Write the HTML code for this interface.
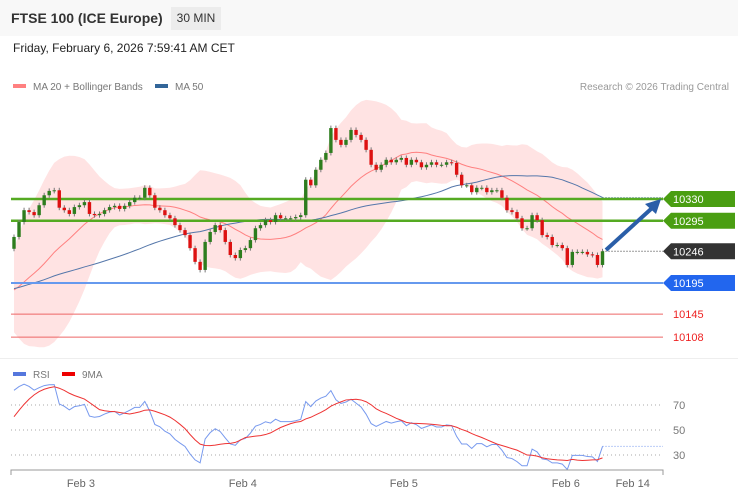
<!DOCTYPE html>
<html><head><meta charset="utf-8"><style>
body{margin:0;background:#fff;font-family:"Liberation Sans",sans-serif;}
#wrap{position:relative;width:738px;height:500px;overflow:hidden;background:#fff}
.hdr{position:absolute;left:0;top:0;width:738px;height:36px;background:#f8f8f8}
</style></head><body>
<div id="wrap">
<div class="hdr">
 <div style="position:absolute;left:11px;top:10px;font-size:14px;font-weight:bold;color:#333">FTSE 100 (ICE Europe)</div>
 <div style="position:absolute;left:171px;top:7px;width:50px;height:23px;background:#ececec;font-size:12px;line-height:23px;text-align:center;color:#333">30 MIN</div>
</div>
<div style="position:absolute;left:13px;top:41px;font-size:12px;color:#222">Friday, February 6, 2026 7:59:41 AM CET</div>
<svg id="svg" width="738" height="500" style="position:absolute;left:0;top:0"></svg>
</div>
<script>
const priorCloses=[10200,10195,10190,10185,10190,10195,10200,10195,10190,10185,10190,10195,10200,10205,10200,10195,10190,10185,10180,10185,10190,10185,10180,10175,10180,10185,10180,10175,10170,10175,10180,10175,10170,10165,10170,10175,10170,10165,10160,10165,10170,10165,10160,10165,10170,10175,10190,10210,10235,10250];
const closes=[10269,10293,10312,10309,10304,10320,10336,10343,10344,10316,10312,10306,10317,10320,10325,10306,10304,10306,10312,10317,10319,10314,10319,10325,10332,10332,10348,10336,10316,10312,10304,10299,10288,10280,10272,10251,10229,10216,10261,10277,10288,10280,10261,10240,10235,10248,10251,10264,10283,10288,10296,10293,10304,10299,10299,10299,10301,10304,10361,10352,10377,10393,10404,10444,10425,10417,10425,10441,10433,10425,10409,10385,10377,10385,10393,10389,10393,10396,10385,10393,10389,10381,10385,10389,10385,10385,10389,10388,10369,10352,10352,10341,10348,10348,10341,10344,10344,10332,10312,10309,10299,10283,10283,10304,10296,10272,10269,10256,10256,10251,10224,10245,10245,10245,10241,10240,10224,10246];
const levelVals=[10330,10295,10246,10195,10145,10108];
const levelLabels=["10330","10295","10246","10195","10145","10108"];
const rsiTicks=[70,50,30];
const dateLabels=["Feb 3","Feb 4","Feb 5","Feb 6","Feb 14"];
const dateIdx=[13.3,45.5,77.5,109.7,123.0];

const svg=document.getElementById('svg');const NS="http://www.w3.org/2000/svg";
function mk(t,a,p){const e=document.createElementNS(NS,t);for(const k in a)e.setAttribute(k,a[k]);(p||svg).appendChild(e);return e;}
const n=closes.length;const P=priorCloses.length;const full=priorCloses.concat(closes);
const step=5.03;
const xOf=i=>14+i*step;
const yP=p=>199+(10330-p)*84/135;
const yR=r=>430-(r-50)*25/20;

const sep=mk('rect',{x:0,y:358,width:738,height:1,fill:'#eee'});


const lg=mk('g',{});

mk('rect',{x:13,y:84,width:13,height:4,fill:'#ff8080'},lg);
mk('text',{x:33,y:90,'font-size':10,fill:'#777'},lg).textContent='MA 20 + Bollinger Bands';
mk('rect',{x:155,y:84,width:13,height:4,fill:'#336699'},lg);
mk('text',{x:175,y:90,'font-size':10,fill:'#777'},lg).textContent='MA 50';
const cr=mk('text',{x:729,y:90,'font-size':10,fill:'#999','text-anchor':'end'});
cr.textContent='Research © 2026 Trading Central';

function sma(arr,k,i){let s=0,c=0;for(let j=Math.max(0,i-k+1);j<=i;j++){s+=arr[j];c++;}return s/c;}
let up=[],lo=[],m20=[],m50=[];
for(let i=0;i<n;i++){const f=i+P;const m=sma(full,20,f);let v=0,c=0;for(let j=Math.max(0,f-19);j<=f;j++){v+=(full[j]-m)**2;c++;}const sd=Math.sqrt(v/c);m20.push(m);up.push(m+2*sd+6);lo.push(m-2*sd-6);m50.push(sma(full,50,f));}
let d='';for(let i=0;i<n;i++)d+=(i?'L':'M')+xOf(i)+','+yP(up[i]);for(let i=n-1;i>=0;i--)d+='L'+xOf(i)+','+yP(lo[i]);
const band=mk('path',{d:d+'Z',fill:'#ffe3e3'});

const line=(arr,f)=>arr.map((v,i)=>(i?'L':'M')+xOf(i)+','+f(v)).join('');
const ma20=mk('path',{d:line(m20,yP),fill:'none',stroke:'#ff8080','stroke-width':1});

const ma50=mk('path',{d:line(m50,yP),fill:'none',stroke:'#5577aa','stroke-width':1});

mk('line',{x1:xOf(n-1),x2:663,y1:yP(m50[n-1]),y2:yP(m50[n-1]),stroke:'#5577aa','stroke-dasharray':'1,2'});

levelVals.forEach((v,k)=>{const y=yP(v);
 if(k!==2){const l=mk('line',{x1:11,x2:663,y1:y,y2:y,stroke:k<2?'#55aa22':(k==3?'#6699ee':'#ee6666'),'stroke-width':k<2?2.5:(k==3?2:1)});
  }
 else mk('line',{x1:xOf(n-1),x2:663,y1:y,y2:y,stroke:'#333','stroke-dasharray':'1,2'});
 if(k<4){const b=mk('path',{d:`M663,${y}L671,${y-8}H735V${y+8}H671Z`,fill:k<2?'#4a9e12':(k==2?'#333':'#2266ee')});
  
  mk('text',{x:673,y:y+4,'font-size':11,fill:'#fff'}).textContent=levelLabels[k];}
 else{const t=mk('text',{x:673,y:y+4,'font-size':11,fill:'#ee2222'});t.textContent=levelLabels[k];
  }
});

for(let i=0;i<n;i++){const o=full[i+P-1],c=closes[i];const x=xOf(i);
 const hi=Math.max(o,c)+4,lw=Math.min(o,c)-4;const g=mk('g',{});
 
 mk('line',{x1:x,x2:x,y1:yP(hi),y2:yP(lw),stroke:'#777','stroke-width':1},g);
 const col=c>=o?'#2e7d1e':'#dd1111';const y1=yP(Math.max(o,c)),y2=yP(Math.min(o,c));
 mk('rect',{x:x-1.7,y:y1,width:3.4,height:Math.max(1,y2-y1),fill:col},g);}

const ar=mk('g',{});
mk('line',{x1:606,y1:250,x2:651,y2:209,stroke:'#2a5ea8','stroke-width':4},ar);
mk('path',{d:'M661,199L656,214L645,204Z',fill:'#2a5ea8'},ar);

let rsiF=[],ag=0,al=0;for(let i=0;i<full.length;i++){const ch=i?full[i]-full[i-1]:0;const g=Math.max(ch,0),l=Math.max(-ch,0);
 if(i===0){ag=3;al=3;}else{ag=(ag*13+g)/14;al=(al*13+l)/14;}rsiF.push(100-100/(1+ag/Math.max(al,0.01)));}
const rsi=rsiF.slice(P);
const rma=rsi.map((v,i)=>sma(rsiF,9,i+P));
const rl=mk('g',{});
mk('rect',{x:13,y:372,width:13,height:4,fill:'#5577dd'},rl);mk('text',{x:33,y:378,'font-size':10,fill:'#777'},rl).textContent='RSI';
mk('rect',{x:62,y:372,width:13,height:4,fill:'#ee0000'},rl);mk('text',{x:82,y:378,'font-size':10,fill:'#777'},rl).textContent='9MA';
rsiTicks.forEach(t=>{mk('line',{x1:11,x2:663,y1:yR(t),y2:yR(t),stroke:'#aaa','stroke-dasharray':'1,3'});
 const tx=mk('text',{x:673,y:yR(t)+4,'font-size':11,fill:'#777'});tx.textContent=t;
 });
const rp=mk('path',{d:line(rsi,yR),fill:'none',stroke:'#7799ee','stroke-width':1});

mk('line',{x1:xOf(n-1),x2:663,y1:yR(rsi[n-1]),y2:yR(rsi[n-1]),stroke:'#7799ee','stroke-dasharray':'1,2'});
const mp=mk('path',{d:line(rma,yR),fill:'none',stroke:'#ee3333','stroke-width':1});


const ax=mk('g',{});
mk('path',{d:'M11,475V470H663V475',fill:'none',stroke:'#999','stroke-width':1},ax);
dateLabels.forEach((t,k)=>{const x=xOf(dateIdx[k]);const tx=mk('text',{x:x,y:487,'font-size':11,fill:'#666','text-anchor':'middle'},ax);tx.textContent=t;});
</script>
</body></html>
